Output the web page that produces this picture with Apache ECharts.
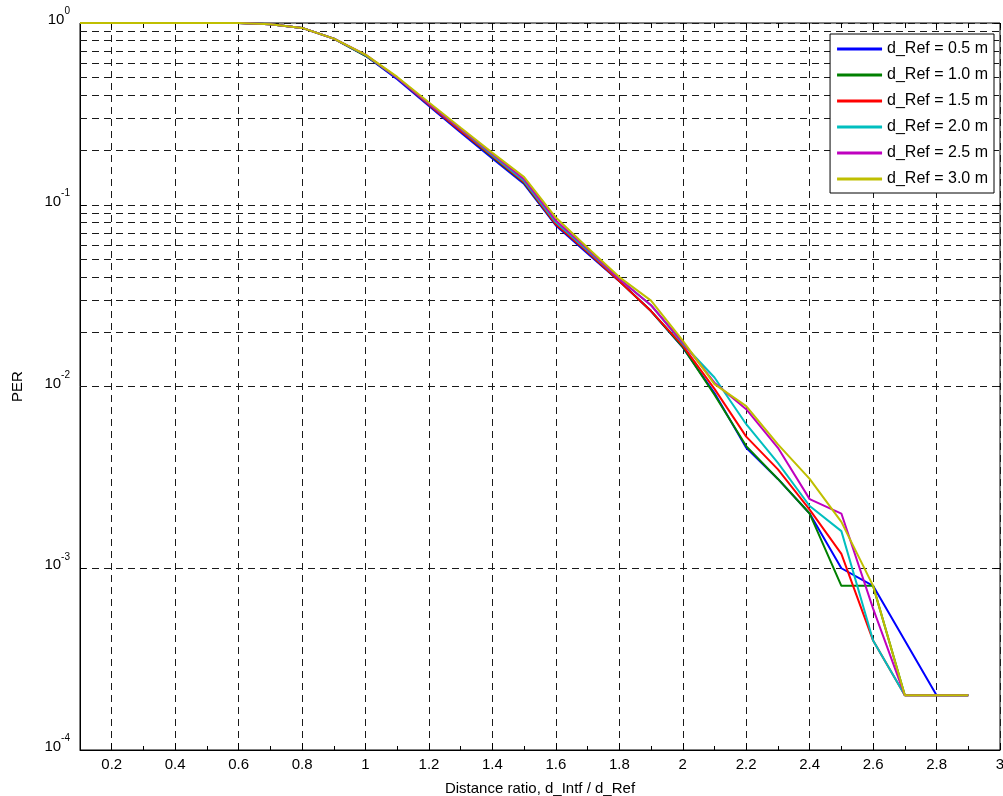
<!DOCTYPE html>
<html>
<head>
<meta charset="utf-8">
<script src="https://cdn.jsdelivr.net/npm/echarts@6/dist/echarts.min.js"></script>
<style>
html,body{margin:0;padding:0;background:#fff;}
#chart{width:1003px;height:796px;}
</style>
</head>
<body>
<div id="chart"></div>
<script>
// ---- data ----
const xValues = [0.1,0.2,0.3,0.4,0.5,0.6,0.7,0.8,0.9,1.0,1.1,1.2,1.3,1.4,1.5,1.6,1.7,1.8,1.9,2.0,2.1,2.2,2.3,2.4,2.5,2.6,2.7,2.8,2.9];
const seriesNames = ['d_Ref = 0.5 m','d_Ref = 1.0 m','d_Ref = 1.5 m','d_Ref = 2.0 m','d_Ref = 2.5 m','d_Ref = 3.0 m'];
const per05 = [1,1,1,1,1,1,0.985,0.94,0.82,0.66,0.49,0.35,0.25,0.18,0.13,0.077,0.054,0.038,0.026,0.0164,0.0092,0.0046,0.0031,0.0020,0.0010,0.0008,0.0004,0.0002,0.0002];
const per10 = [1,1,1,1,1,1,0.985,0.94,0.82,0.66,0.50,0.355,0.255,0.183,0.132,0.078,0.055,0.038,0.026,0.0165,0.0090,0.0047,0.0031,0.0020,0.0008,0.0008,0.0002,0.0002,0.0002];
const per15 = [1,1,1,1,1,1,0.985,0.94,0.82,0.665,0.50,0.355,0.255,0.185,0.133,0.078,0.055,0.038,0.026,0.0168,0.0097,0.0053,0.0035,0.0021,0.0012,0.0004,0.0002,0.0002,0.0002];
const per20 = [1,1,1,1,1,1,0.985,0.94,0.82,0.665,0.50,0.36,0.26,0.187,0.135,0.080,0.056,0.039,0.028,0.0172,0.0112,0.0062,0.0038,0.0022,0.0016,0.0004,0.0002,0.0002,0.0002];
const per25 = [1,1,1,1,1,1,0.985,0.94,0.82,0.67,0.50,0.36,0.262,0.19,0.138,0.082,0.057,0.039,0.028,0.0175,0.0105,0.0075,0.0046,0.0024,0.0020,0.0006,0.0002,0.0002,0.0002];
const per30 = [1,1,1,1,1,1,0.985,0.94,0.82,0.67,0.505,0.365,0.265,0.193,0.142,0.085,0.058,0.040,0.0297,0.0179,0.0103,0.0078,0.0048,0.0031,0.0018,0.0008,0.0002,0.0002,0.0002];
const xMajorTicks = [0.2,0.4,0.6,0.8,1,1.2,1.4,1.6,1.8,2,2.2,2.4,2.6,2.8,3];
const xMinorTicks = [0.3,0.5,0.7,0.9,1.1,1.3,1.5,1.7,1.9,2.1,2.3,2.5,2.7,2.9];
const yDecades = [-4,-3,-2,-1,0];
const colors = ['#0000ff','#008000','#ff0000','#00bfbf','#bf00bf','#bfbf00'];

// ---- build ----
const allPer = [per05, per10, per15, per20, per25, per30];
const minorY = [];
yDecades.slice(0, -1).forEach(e => { for (let m = 2; m <= 9; m++) minorY.push(m * Math.pow(10, e)); });

const FONT = '"Liberation Sans", Arial, sans-serif';
const mkGrid = () => ({ color: '#1a1a1a', width: 1, type: [7, 5] });

const series = [{
  name: '_minor', type: 'line', data: [[0.1, 1]], showSymbol: false, symbol: 'none',
  lineStyle: { width: 0, opacity: 0 }, silent: true, z: 1, legendHoverLink: false,
  markLine: {
    silent: true, symbol: 'none', label: { show: false }, animation: false, z: 1,
    lineStyle: mkGrid(), emphasis: { disabled: true },
    data: minorY.map(v => ({ yAxis: v }))
  }
}];
allPer.forEach((arr, i) => {
  series.push({
    name: seriesNames[i], type: 'line', symbol: 'none', showSymbol: false,
    color: colors[i], lineStyle: { width: 2, color: colors[i] }, z: 3,
    data: xValues.map((x, j) => [x, arr[j]])
  });
});

const chart = echarts.init(document.getElementById('chart'), null, { renderer: 'canvas' });
chart.setOption({
  animation: false,
  backgroundColor: '#fff',
  textStyle: { fontFamily: FONT },
  grid: { left: 80, top: 23, right: 3, bottom: 46, show: true, borderColor: '#000', borderWidth: 1,
    containLabel: false, outerBoundsMode: 'none' },
  legend: {
    data: seriesNames, orient: 'vertical', right: 9, top: 34, z: 20,
    icon: 'rect', itemWidth: 45, itemHeight: 3, itemGap: 10,
    backgroundColor: '#fff', borderColor: '#000', borderWidth: 1, borderRadius: 0,
    padding: [7, 6, 6, 7], selectedMode: false,
    textStyle: { fontSize: 16, color: '#000', fontFamily: FONT }
  },
  xAxis: [{
    type: 'value', min: 0.1, max: 3, position: 'bottom',
    name: 'Distance ratio, d_Intf / d_Ref', nameLocation: 'middle', nameGap: 31,
    nameTextStyle: { fontSize: 15, color: '#000', fontFamily: FONT },
    axisLine: { show: true, onZero: false, lineStyle: { color: '#000', width: 1 } },
    axisTick: { show: true, inside: true, length: 7, customValues: xMajorTicks, lineStyle: { color: '#000' } },
    axisLabel: { show: true, margin: 7, fontSize: 15, color: '#000', fontFamily: FONT, customValues: xMajorTicks,
      formatter: v => String(Math.round(v * 10) / 10) },
    splitLine: { show: true, lineStyle: mkGrid() }
  }, {
    type: 'value', min: 0.1, max: 3, position: 'bottom',
    axisLine: { show: false }, axisLabel: { show: false }, splitLine: { show: false },
    axisTick: { show: true, inside: true, length: 4, customValues: xMinorTicks, lineStyle: { color: '#000' } }
  }, {
    type: 'value', min: 0.1, max: 3, position: 'top',
    axisLine: { show: false }, axisLabel: { show: false }, splitLine: { show: false },
    axisTick: { show: true, inside: true, length: 5, customValues: xMajorTicks.concat(xMinorTicks), lineStyle: { color: '#000' } }
  }],
  yAxis: [{
    type: 'log', logBase: 10, min: 1e-4, max: 1,
    name: 'PER', nameLocation: 'middle', nameGap: 55,
    nameTextStyle: { fontSize: 15, color: '#000', fontFamily: FONT },
    axisLine: { show: true, onZero: false, lineStyle: { color: '#000', width: 1 } },
    axisTick: { show: true, inside: true, length: 6, lineStyle: { color: '#000' } },
    splitLine: { show: true, lineStyle: mkGrid() },
    axisLabel: {
      show: true, margin: 10, color: '#000', fontFamily: FONT, padding: [0, 0, 12, 0],
      formatter: v => '{b|10}{s|' + Math.round(Math.log10(v)) + '}',
      rich: {
        b: { fontSize: 15, lineHeight: 15, verticalAlign: 'bottom', fontFamily: FONT, color: '#000' },
        s: { fontSize: 10, verticalAlign: 'top', padding: [0, 0, 11, 0], fontFamily: FONT, color: '#000' }
      }
    }
  }, {
    type: 'log', logBase: 10, min: 1e-4, max: 1, position: 'right',
    axisLine: { show: false }, axisLabel: { show: false }, splitLine: { show: false },
    axisTick: { show: true, inside: true, length: 6, lineStyle: { color: '#000' } }
  }],
  series: series
});
</script>
</body>
</html>
